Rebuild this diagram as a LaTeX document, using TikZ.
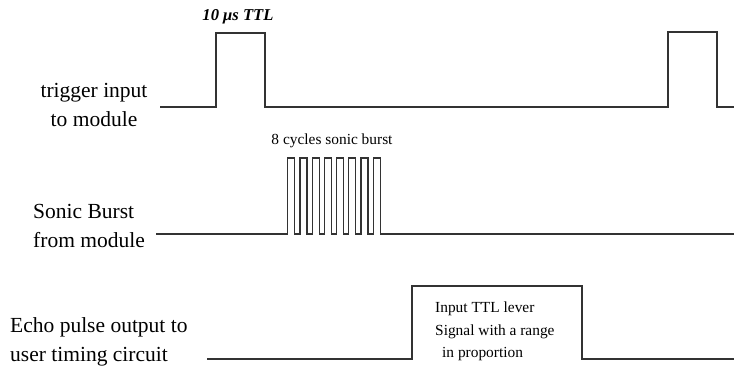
\documentclass[tikz,border=0pt]{standalone}
\usepackage{fontspec}
\setmainfont{Liberation Serif}
\usetikzlibrary{positioning}

\begin{document}
\begin{tikzpicture}[x=1pt, y=-1pt,
        wave/.style={draw=black!80, line width=1.2pt},
        lbl/.style={inner sep=0pt, align=#1, font=\fontsize{21.5}{29}\selectfont},
        note/.style={inner sep=0pt, align=left, font=\fontsize{15.4}{22.5}\selectfont}
    ]
    \useasboundingbox (0,0) rectangle (734,371);
    \node[lbl=center, anchor=base] (trig)  at (94,127)  {trigger input\\to module};
    \node[lbl=left, anchor=base west] (sonic) at (33,248)  {Sonic Burst\\from module};
    \node[lbl=left, anchor=base west] (echo)  at (10,362)  {Echo pulse output to\\user timing circuit};
    \node[inner sep=0pt, anchor=base, font=\fontsize{16.6}{17}\selectfont\bfseries\itshape] (ttl) at (238,21) {10 μs TTL};
    \node[note, anchor=base] (cycles) at (332,145) {8 cycles sonic burst};
    \node[note, anchor=base west] (range) at (435,358) {Input TTL lever\\Signal with a range\\\hspace*{7pt}in proportion};
    \draw[wave] (160,107) -| (216,33) -| (265,107) -| (668,32) -| (717,107) -- (734,107);
    \draw[wave] (156,234) foreach \k in {0,...,7} { -| ({287.7+12.2*\k},158) -| ({294.7+12.2*\k},234) } -- (734,234);
    \draw[wave] (207,359) -| (412,286) -| (582,359) -- (734,359);
\end{tikzpicture}
\end{document}
